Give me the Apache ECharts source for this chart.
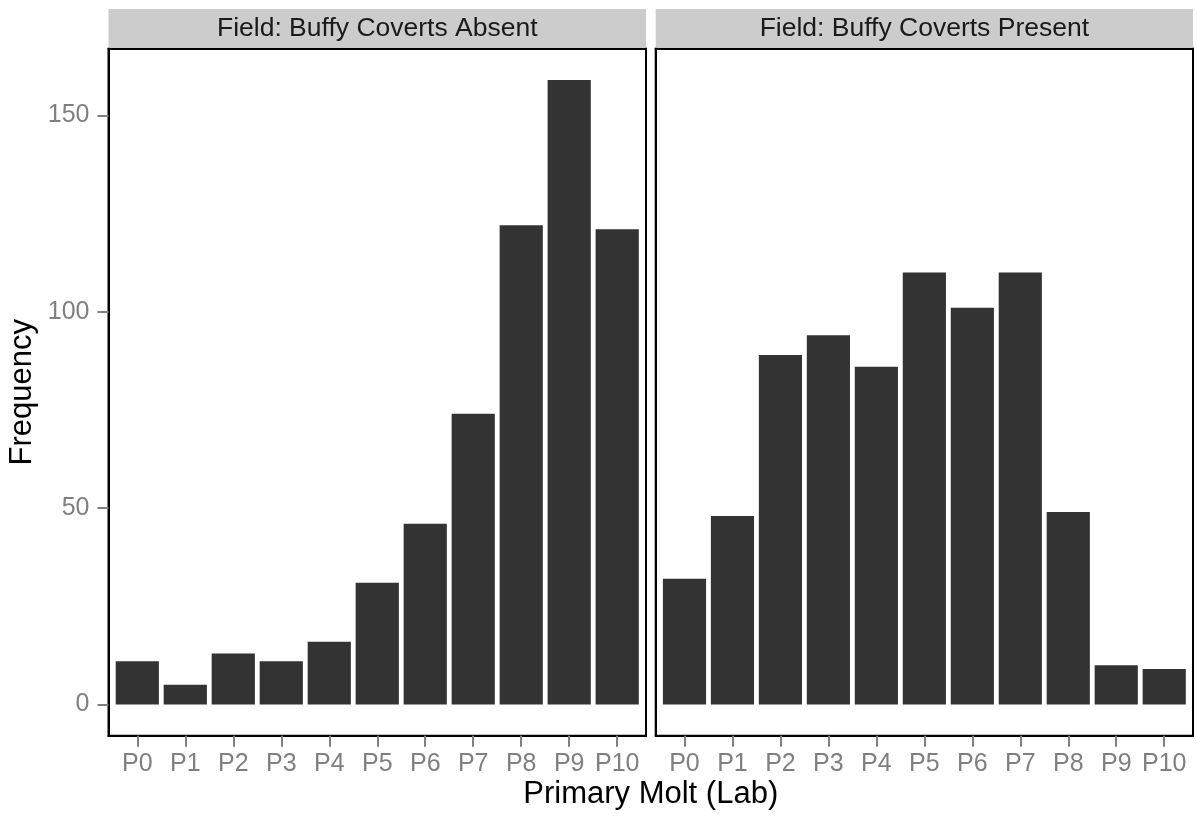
<!DOCTYPE html>
<html>
<head>
<meta charset="utf-8">
<title>Primary Molt (Lab) by Field Buffy Coverts</title>
<script src="https://cdn.jsdelivr.net/npm/echarts@6/dist/echarts.min.js"></script>
<style>
  html, body { margin: 0; padding: 0; background: #ffffff; }
  #chart { width: 1197px; height: 819px; }
</style>
</head>
<body>
<div id="chart"></div>
<script>
// Molt stage categories shared by both facets
const categories = ['P0', 'P1', 'P2', 'P3', 'P4', 'P5', 'P6', 'P7', 'P8', 'P9', 'P10'];
// Counts per molt stage, buffy coverts absent in the field
const absentCounts = [11, 5, 13, 11, 16, 31, 46, 74, 122, 159, 121];
// Counts per molt stage, buffy coverts present in the field
const presentCounts = [32, 48, 89, 94, 86, 110, 101, 110, 49, 10, 9];
// Frequency tick labels
const yTicks = [0, 50, 100, 150];
// Facet strip labels
const panelTitles = ['Field: Buffy Coverts Absent', 'Field: Buffy Coverts Present'];
const xTitle = 'Primary Molt (Lab)';
const yTitle = 'Frequency';

const FONT = '"Liberation Sans", Arial, Helvetica, sans-serif';
const BAR = '#333333';
const TICK_GREY = '#7F7F7F';
const BORDER = { show: true, onZero: false, lineStyle: { color: '#000000', width: 2 } };

// continuous scale padded by 5% of the data range on each side
const dataMax = Math.max(...absentCounts, ...presentCounts);
const yMin = -dataMax * 0.05;
const yMax = dataMax * 1.05;

// panel geometry
const panelTop = 48.7;
const panelBottom = 735.7;
const panelH = panelBottom - panelTop;
const panels = [
  { left: 108.5, right: 646.0 },
  { left: 655.7, right: 1193.0 }
];
// discrete scale: 0.6 of a step padding each side; the category bands
// already cover 0.5 of it, so the plotting grid is inset by 0.1 step
panels.forEach(p => {
  p.width = p.right - p.left;
  p.pad = p.width / (categories.length - 1 + 1.2) * 0.1;
});

const grids = [];
const xAxes = [];
const yAxes = [];
const series = [];
const graphics = [];

panels.forEach((p, i) => {
  // frame grid: panel border + frequency axis
  grids.push({
    left: p.left, top: panelTop, width: p.width, height: panelH,
    show: true, borderColor: '#000000', borderWidth: 2, backgroundColor: '#ffffff'
  });
  // plotting grid: categories and bars
  grids.push({
    left: p.left + p.pad, top: panelTop, width: p.width - 2 * p.pad, height: panelH,
    show: false
  });
  const frameIdx = i * 2;
  const plotIdx = i * 2 + 1;

  // frame edges drawn as axis lines (bottom / top / right)
  xAxes.push({
    type: 'value', gridIndex: frameIdx, min: 0, max: 1, position: 'bottom',
    axisLine: BORDER, axisTick: { show: false }, axisLabel: { show: false }, splitLine: { show: false }
  });
  xAxes.push({
    type: 'value', gridIndex: frameIdx, min: 0, max: 1, position: 'top',
    axisLine: BORDER, axisTick: { show: false }, axisLabel: { show: false }, splitLine: { show: false }
  });
  yAxes.push({
    type: 'value', gridIndex: frameIdx, min: yMin, max: yMax, position: 'left',
    axisLine: BORDER,
    splitLine: { show: false },
    axisTick: {
      show: i === 0, length: 11, customValues: yTicks,
      lineStyle: { color: TICK_GREY, width: 2 }
    },
    axisLabel: {
      show: i === 0, customValues: yTicks, margin: 19,
      color: TICK_GREY, fontSize: 25, fontFamily: FONT,
      formatter: v => String(v)
    }
  });
  yAxes.push({
    type: 'value', gridIndex: frameIdx, min: yMin, max: yMax, position: 'right',
    axisLine: BORDER, axisTick: { show: false }, axisLabel: { show: false }, splitLine: { show: false }
  });

  xAxes.push({
    type: 'category', gridIndex: plotIdx, data: categories,
    boundaryGap: true, position: 'bottom',
    axisLine: BORDER,
    axisTick: { show: true, alignWithLabel: true, length: 11, lineStyle: { color: TICK_GREY, width: 2 } },
    axisLabel: { color: TICK_GREY, fontSize: 25, fontFamily: FONT, margin: 16, interval: 0 },
    splitLine: { show: false }
  });
  yAxes.push({ type: 'value', gridIndex: plotIdx, min: yMin, max: yMax, show: false });

  series.push({
    type: 'bar',
    name: panelTitles[i],
    xAxisIndex: xAxes.length - 1,
    yAxisIndex: yAxes.length - 1,
    data: i === 0 ? absentCounts : presentCounts,
    barCategoryGap: '10%',
    itemStyle: { color: BAR },
    emphasis: { disabled: true },
    silent: true
  });

  // facet strip
  graphics.push({
    type: 'rect',
    shape: { x: p.left, y: 9, width: p.width, height: panelTop - 9 },
    style: { fill: '#CCCCCC' },
    silent: true
  });
  graphics.push({
    type: 'text',
    x: p.left + p.width / 2, y: (9 + panelTop) / 2,
    style: {
      text: panelTitles[i], fill: '#1A1A1A', fontSize: 26.5, fontFamily: FONT,
      align: 'center', verticalAlign: 'middle'
    },
    silent: true
  });
});

// axis titles
graphics.push({
  type: 'text',
  x: (panels[0].left + panels[1].right) / 2, y: 794,
  style: { text: xTitle, fill: '#000000', fontSize: 31, fontFamily: FONT, align: 'center', verticalAlign: 'middle' },
  silent: true
});
graphics.push({
  type: 'text',
  x: 22, y: (panelTop + panelBottom) / 2,
  rotation: Math.PI / 2,
  style: { text: yTitle, fill: '#000000', fontSize: 31, fontFamily: FONT, align: 'center', verticalAlign: 'middle' },
  silent: true
});

const chart = echarts.init(document.getElementById('chart'), null, { renderer: 'canvas' });
chart.setOption({
  animation: false,
  backgroundColor: '#ffffff',
  grid: grids,
  xAxis: xAxes,
  yAxis: yAxes,
  series: series,
  graphic: graphics
});
</script>
</body>
</html>
